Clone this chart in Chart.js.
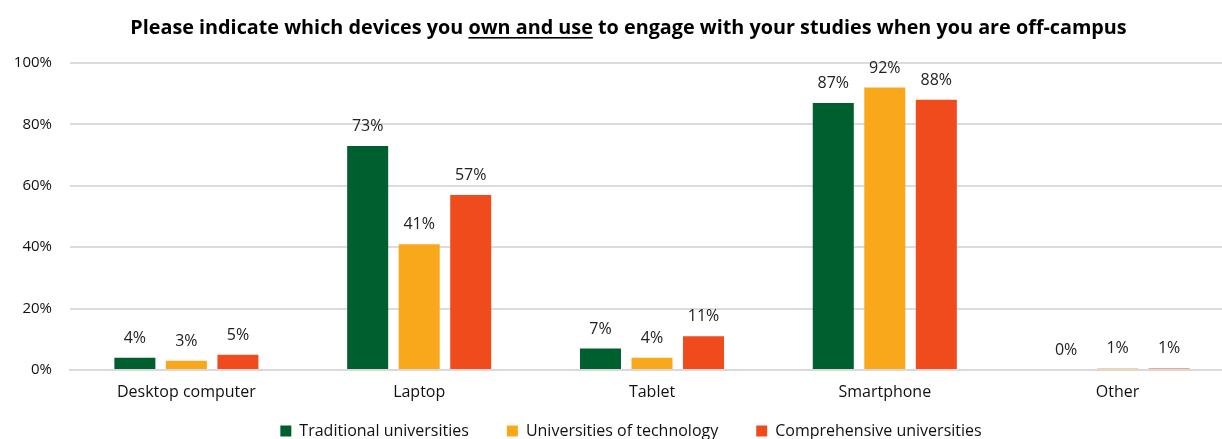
<!DOCTYPE html>
<html><head><meta charset="utf-8">
<script src="https://cdn.jsdelivr.net/npm/chart.js@4/dist/chart.umd.min.js"></script>
<style>html,body{margin:0;padding:0;background:#fff}#wrap{width:1222px;height:439px;position:relative}</style>
</head><body><div id="wrap"><canvas id="c"></canvas></div>
<script>
const categories = ["Desktop computer","Laptop","Tablet","Smartphone","Other"];
const traditional = [4,73,7,87,0];
const technology = [3,41,4,92,0.5];
const comprehensive = [5,57,11,88,0.5];
const seriesNames = ["Traditional universities","Universities of technology","Comprehensive universities"];
const yTicks = [0,20,40,60,80,100];
const titleParts = ["Please indicate which devices you ","own and use"," to engage with your studies when you are off-campus"];

const colors = ["#005f2e","#f9a81b","#ef4b1d"];
const FONT = "'Open Sans', sans-serif";

const titlePlugin = {
  id:'titleU',
  afterDraw(chart){
    const ctx = chart.ctx;
    ctx.save();
    ctx.font = "bold 19.8px " + FONT;
    ctx.fillStyle = "#000";
    ctx.textBaseline = "alphabetic";
    const widths = titleParts.map(t=>ctx.measureText(t).width);
    const total = widths.reduce((a,b)=>a+b,0);
    let x = 628.5 - total/2;
    const y = 34;
    titleParts.forEach((t,i)=>{
      ctx.fillText(t,x,y);
      if(i===1){ ctx.fillRect(x, y+3, widths[i], 1.6); }
      x += widths[i];
    });
    ctx.restore();
  }
};
const labelPlugin = {
  id:'vals',
  afterDatasetsDraw(chart){
    const ctx = chart.ctx;
    ctx.save();
    ctx.font = "16px " + FONT;
    ctx.fillStyle = "#222";
    ctx.textAlign = "center";
    ctx.textBaseline = "alphabetic";
    chart.data.datasets.forEach((ds,di)=>{
      chart.getDatasetMeta(di).data.forEach((bar,i)=>{
        ctx.fillText(Math.round(ds.data[i])+"%", bar.x, bar.y-15);
      });
    });
    ctx.restore();
  }
};
const layoutTweak = {
  id:'layoutTweak',
  beforeInit(chart){
    const orig = chart.legend.fit;
    chart.legend.fit = function(){ orig.call(this); this.height = 23.8; };
  },
  afterLayout(chart){
    const R = 1234;
    const x = chart.scales.x;
    x.right = R; x.width = R - x.left; x.configure();
    chart.chartArea.right = R; chart.chartArea.width = R - chart.chartArea.left;
  },
  beforeDraw(chart){
    const lg = chart.legend;
    lg.top = 385; lg.bottom = 439; lg.height = 54;
    lg.left = 20; lg.right = 1242; lg.width = 1222;
  }
};

new Chart(document.getElementById('c'),{
  type:'bar',
  data:{labels:categories,datasets:[
    {label:seriesNames[0],data:traditional,backgroundColor:colors[0]},
    {label:seriesNames[1],data:technology,backgroundColor:colors[1]},
    {label:seriesNames[2],data:comprehensive,backgroundColor:colors[2]}
  ]},
  options:{
    responsive:true,maintainAspectRatio:false,animation:false,
    devicePixelRatio:1,
    layout:{padding:{top:63,right:0,left:0,bottom:0}},
    datasets:{bar:{categoryPercentage:0.664,barPercentage:0.796}},
    plugins:{
      legend:{position:'bottom',labels:{boxWidth:11,boxHeight:11,padding:38,color:'#111',font:{family:FONT,size:16}}},
      tooltip:{enabled:false},
      title:{display:false}
    },
    scales:{
      x:{grid:{display:false,drawTicks:false},border:{color:'#d9d9d9',width:2},
         ticks:{color:'#111',font:{family:FONT,size:16},padding:13}},
      y:{min:0,max:100,afterBuildTicks(ax){ax.ticks=yTicks.map(v=>({value:v}));},
         afterFit(s){s.width=70;},
         grid:{color:'#dcdcdc',lineWidth:2,drawTicks:false},border:{display:false},
         ticks:{color:'#111',font:{family:FONT,size:15},padding:18,callback:v=>v+"%"}}
    }
  },
  plugins:[titlePlugin,labelPlugin,layoutTweak]
});
</script></body></html>
